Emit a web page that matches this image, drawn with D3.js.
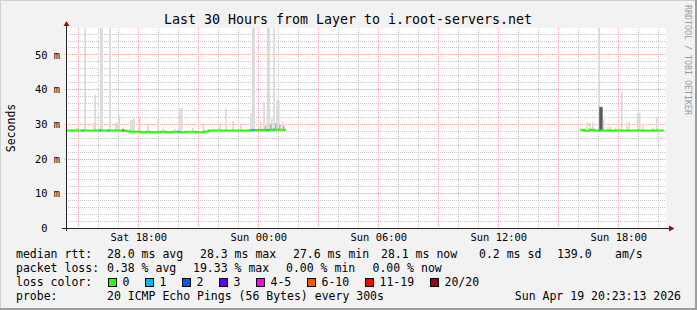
<!DOCTYPE html>
<html>
<head>
<meta charset="utf-8">
<script src="https://cdn.jsdelivr.net/npm/d3@7"></script>
<style>
  body { margin: 0; background: #f2f2f2; }
  svg { display: block; font-family: "DejaVu Sans Mono", monospace; }
</style>
</head>
<body>
<svg id="chart" width="697" height="310"></svg>
<script>
// all times are April 2026, "day HH:MM"
const startTime = "18 14:23:13";
const endTime = "19 20:23:13";

// median rtt (ms), step function, null = no data
const medianTimes = ["18 14:23", "18 17:23", "18 17:35", "18 18:08", "18 18:23", "18 18:35",
  "18 19:05", "18 19:23", "18 19:41", "18 20:05", "18 20:23", "18 20:53", "18 21:17",
  "18 21:32", "18 23:35", "19 00:35", "19 01:23", "19 01:28",
  "19 16:05", "19 16:17", "19 16:35", "19 16:47", "19 20:17"];
const medianValues = [28.1, 27.9, 27.7, 27.6, 27.7, 27.6,
  27.7, 27.6, 27.7, 27.6, 27.7, 27.6, 27.8,
  28.1, 28.2, 28.3, 28.3, null,
  28.3, 28.0, 28.3, 28.1, 28.1];

// lost pings per 5 min step (only steps with loss)
const lossTimes = ["18 15:12", "18 16:03", "18 16:27", "18 17:12", "18 19:58", "18 23:39",
  "18 23:44", "19 00:26", "19 00:44", "19 17:02"];
const lossCounts = [1, 1, 1, 4, 1, 1, 1, 1, 1, 1];

// smoke: highest ping of a step (ms)
const smokeTimes = ["18 14:53", "18 15:18", "18 15:45", "18 15:48", "18 16:05", "18 16:09",
  "18 16:33", "18 16:50", "18 16:54", "18 17:00", "18 17:11", "18 17:35", "18 17:41",
  "18 17:45", "18 18:02", "18 18:27", "18 18:57", "18 19:12", "18 19:47", "18 20:02",
  "18 20:08", "18 20:41", "18 21:13", "18 22:03", "18 22:21", "18 22:42", "18 23:06",
  "18 23:35", "18 23:41", "18 23:45", "19 00:05", "19 00:15", "19 00:26", "19 00:30",
  "19 00:38", "19 00:45", "19 00:54", "19 00:59", "19 01:10",
  "19 16:24", "19 16:32", "19 16:41", "19 17:00", "19 17:14", "19 17:27", "19 17:35",
  "19 17:50", "19 18:08", "19 18:23", "19 18:30", "19 18:56", "19 19:02", "19 19:11",
  "19 19:42", "19 19:53", "19 17:03", "19 17:08"];
const smokeTops = [28.9, 60, 30.2, 38.3, 60, 60,
  60, 30.3, 30.3, 32.6, 28.8, 31.1, 31.1,
  31.5, 31.8, 29.7, 31.4, 28.6, 28.6, 34.5,
  34.5, 28.8, 30.0, 30.2, 34.5, 30.8, 30.0,
  33.0, 60, 60, 30.6, 36.4, 60, 60,
  31.6, 60, 36.9, 36.8, 30.8,
  30.6, 30.4, 30.4, 60, 31.4, 29.2, 29.2,
  28.9, 39.3, 30.5, 30.5, 33.1, 33.1, 29.7,
  28.8, 32.1, 35.2, 35.2];

// denser smoke
const midSmokeTimes = ["19 00:20", "19 00:35", "19 00:50", "19 01:02", "19 01:14"];
const midSmokeTops = [29.5, 30.0, 30.2, 29.8, 29.5];
const darkSmokeTimes = ["19 17:03", "19 17:08"];
const darkSmokeTops = [34.8, 34.8];

const lossLabels = ["0", "1", "2", "3", "4-5", "6-10", "11-19", "20/20"];
const lossColors = ["#26ff00", "#00b8ff", "#0059ff", "#5e00ff", "#ff00ff", "#ff5500", "#ff0000", "#a00000"];
const lossBounds = [1, 2, 3, 4, 6, 11, 20];

const rttStats = ["28.0 ms avg", "28.3 ms max", "27.6 ms min", "28.1 ms now", "0.2 ms sd", "139.0", "am/s"];
const lossStats = ["0.38 % avg", "19.33 % max", "0.00 % min", "0.00 % now"];
const probeText = "20 ICMP Echo Pings (56 Bytes) every 300s";
const stampText = "Sun Apr 19 20:23:13 2026";

const yTicks = [0, 10, 20, 30, 40, 50];
const yMax = 57.6;

const parseT = s => d3.timeParse("%Y-%m-%d %H:%M")("2026-04-" + s);
const parseS = s => d3.timeParse("%Y-%m-%d %H:%M:%S")("2026-04-" + s);
const step = 5 * 60 * 1000;

const svg = d3.select('#chart');
const W = 697, H = 310;

// frame
svg.append('rect').attr('width', W).attr('height', H).attr('fill', '#f2f2f2');
svg.append('path').attr('d', `M0,${H} V0 H${W}`).attr('fill', 'none')
  .attr('stroke', '#cfcfcf').attr('stroke-width', 2);
svg.append('path').attr('d', `M0,${H - 1} H${W - 1} V0`).attr('fill', 'none')
  .attr('stroke', '#9e9e9e').attr('stroke-width', 2);

const x = d3.scaleTime().domain([parseS(startTime), parseS(endTime)]).range([66, 666]);
const y = d3.scaleLinear().domain([0, yMax]).range([228, 28]);
const px = v => Math.round(v) + 0.5;

// canvas
svg.append('rect').attr('x', 66).attr('y', 28).attr('width', 600).attr('height', 200).attr('fill', '#fff');

// grid
const grid = svg.append('g').attr('stroke-dasharray', '1,1').attr('shape-rendering', 'crispEdges');
const majorT = x.ticks(d3.timeHour.every(3)).map(d => +d);
const minorT = x.ticks(d3.timeHour.every(1)).filter(d => !majorT.includes(+d));
grid.selectAll('.vmin').data(minorT).enter().append('line')
  .attr('x1', d => px(x(d))).attr('x2', d => px(x(d))).attr('y1', 28).attr('y2', 228)
  .attr('stroke', '#c8c8c8');
const minorY = d3.range(2, yMax, 2).filter(v => v % 10 !== 0);
grid.selectAll('.hmin').data(minorY).enter().append('line')
  .attr('x1', 66).attr('x2', 666).attr('y1', d => px(y(d))).attr('y2', d => px(y(d)))
  .attr('stroke', '#c8c8c8');
grid.selectAll('.vmaj').data(majorT).enter().append('line')
  .attr('x1', d => px(x(d))).attr('x2', d => px(x(d))).attr('y1', 28).attr('y2', 228)
  .attr('stroke', '#f4a6a6');
grid.selectAll('.hmaj').data(yTicks.filter(v => v > 0)).enter().append('line')
  .attr('x1', 64).attr('x2', 666).attr('y1', d => px(y(d))).attr('y2', d => px(y(d)))
  .attr('stroke', '#f4a6a6');

// data
const median = medianTimes.map((t, i) => ({t: parseT(t), v: medianValues[i]}));
const bis = d3.bisector(d => d.t).right;
const medAt = t => { const d = median[Math.max(0, bis(median, t) - 1)]; return d.v == null ? 28 : d.v; };

svg.append('clipPath').attr('id', 'plot').append('rect')
  .attr('x', 66).attr('y', 28).attr('width', 600).attr('height', 200);
const plot = svg.append('g').attr('clip-path', 'url(#plot)');

function smoke(times, tops, color) {
  plot.append('g').selectAll('rect')
    .data(times.map((t, i) => ({t: parseT(t), v: tops[i]})))
    .enter().append('rect')
    .attr('x', d => x(d.t))
    .attr('width', d => x(new Date(+d.t + step)) - x(d.t))
    .attr('y', d => y(d.v))
    .attr('height', d => y(medAt(d.t) - 0.2) - y(d.v))
    .attr('fill', color);
}
smoke(smokeTimes, smokeTops, '#d9d9d9');
smoke(midSmokeTimes, midSmokeTops, '#b4b4b4');
smoke(darkSmokeTimes, darkSmokeTops, '#555');

const line = d3.line().defined(d => d.v != null)
  .x(d => x(d.t)).y(d => y(d.v)).curve(d3.curveStepAfter);
plot.append('path').datum(median).attr('d', line)
  .attr('fill', 'none').attr('stroke', lossColors[0]).attr('stroke-width', 2);

const lossColor = d3.scaleThreshold().domain(lossBounds).range(lossColors);
plot.append('g').selectAll('line')
  .data(lossTimes.map((t, i) => ({t: parseT(t), n: lossCounts[i]})))
  .enter().append('line')
  .attr('x1', d => x(d.t)).attr('x2', d => x(new Date(+d.t + step)))
  .attr('y1', d => y(medAt(d.t))).attr('y2', d => y(medAt(d.t)))
  .attr('stroke', d => lossColor(d.n)).attr('stroke-width', 2);

// axes
const axisG = svg.append('g').attr('shape-rendering', 'crispEdges');
axisG.append('line').attr('x1', 62).attr('x2', 670).attr('y1', 228.5).attr('y2', 228.5).attr('stroke', '#222');
axisG.append('line').attr('x1', 66.5).attr('x2', 66.5).attr('y1', 231).attr('y2', 25).attr('stroke', '#222');
svg.append('path').attr('d', 'M669,225.5 L674.5,228.5 L669,231.5 Z').attr('fill', '#8b1414');
svg.append('path').attr('d', 'M63.5,26 L66.5,21 L69.5,26 Z').attr('fill', '#8b1414');

const xAxis = svg.append('g').attr('transform', 'translate(0,228)')
  .call(d3.axisBottom(x).ticks(d3.timeHour.every(6)).tickFormat(d3.timeFormat('%a %H:%M')).tickSize(0));
xAxis.select('.domain').remove();
xAxis.selectAll('text').attr('y', 13).attr('dy', 0)
  .attr('font-family', '"DejaVu Sans Mono", monospace').attr('font-size', 10.4).attr('fill', '#000');

const yAxis = svg.append('g').attr('transform', 'translate(60,0)')
  .call(d3.axisLeft(y).tickValues(yTicks).tickFormat(d => d === 0 ? '0' : d + ' m').tickSize(0).tickPadding(0));
yAxis.select('.domain').remove();
yAxis.selectAll('text').attr('dy', '0.35em').attr('dx', d => d === 0 ? -12.5 : 0)
  .attr('font-family', '"DejaVu Sans Mono", monospace').attr('font-size', 10.4).attr('fill', '#000');

// texts
svg.append('text').attr('x', 348).attr('y', 23.5).attr('text-anchor', 'middle')
  .attr('font-size', 13.3).text('Last 30 Hours from Layer to i.root-servers.net');
svg.append('text').attr('transform', 'translate(14.5,128) rotate(-90)').attr('text-anchor', 'middle')
  .attr('font-size', 11.5).text('Seconds');
svg.append('text').attr('transform', 'translate(685,5) rotate(90)')
  .attr('font-size', 8.3).attr('fill', '#9a9a9a').text('RRDTOOL / TOBI OETIKER');

// legend
const leg = svg.append('g').attr('font-size', 11.5);
const put = (tx, lx, ly) => leg.append('text').attr('x', lx).attr('y', ly).text(tx);
put('median rtt:', 16, 258);
[107, 200, 293, 381, 479, 557, 615].forEach((lx, i) => put(rttStats[i], lx, 258));
put('packet loss:', 16, 272);
[107, 193, 286, 372.5].forEach((lx, i) => put(lossStats[i], lx, 272));
put('loss color:', 16, 286);
const boxX = [108.5, 145.5, 182.5, 219.5, 256.5, 307.5, 365.5, 430.5];
boxX.forEach((bx, i) => {
  leg.append('rect').attr('x', bx).attr('y', 278.5).attr('width', 8).attr('height', 8)
    .attr('fill', lossColors[i]).attr('stroke', '#000');
  put(lossLabels[i], bx + 14, 286);
});
put('probe:', 16, 300);
put(probeText, 107, 300);
put(stampText, 681, 300).attr('text-anchor', 'end');
</script>
</body>
</html>
